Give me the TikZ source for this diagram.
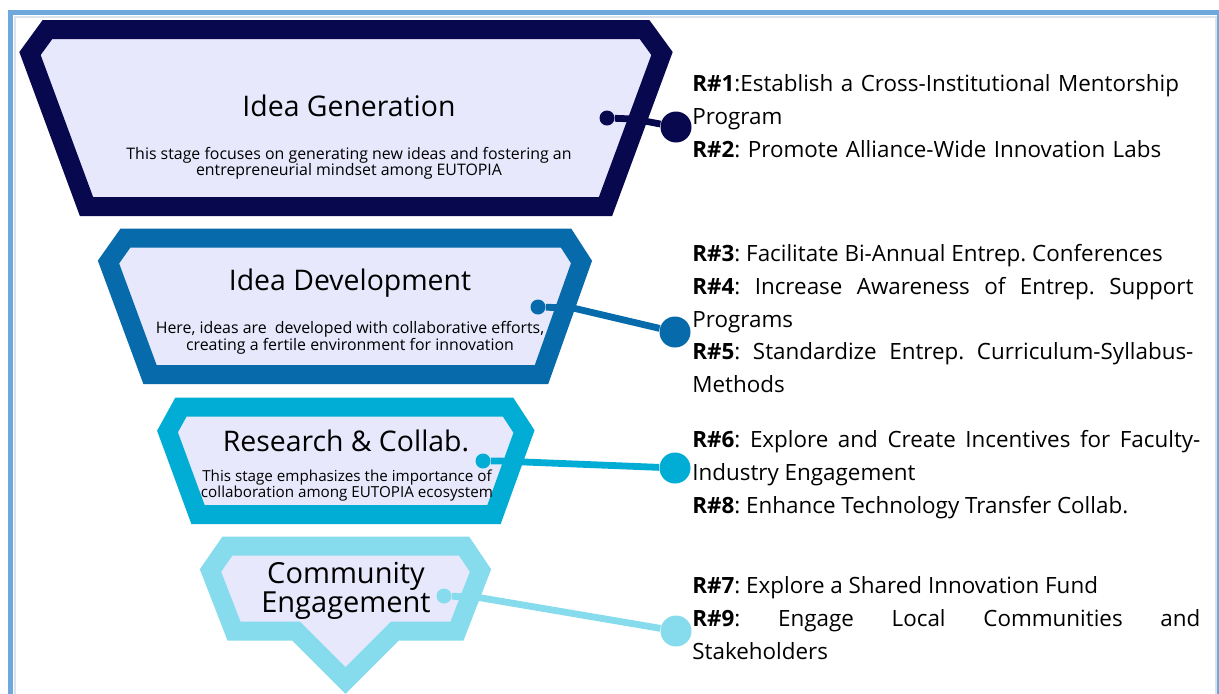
\documentclass[tikz,border=0pt]{standalone}
\usepackage{fontspec}
\setmainfont{Open Sans}
\frenchspacing
\usetikzlibrary{positioning, calc}
\definecolor{navy}{HTML}{08084F}
\definecolor{ocean}{HTML}{066AAB}
\definecolor{cyan}{HTML}{02ADD5}
\definecolor{sky}{HTML}{86DCEC}
\definecolor{lavender}{HTML}{E8E8FD}
\definecolor{frameblue}{HTML}{6FA8DC}
\definecolor{framegrey}{HTML}{DDE3EA}

\begin{document}
\begin{tikzpicture}[x=0.5pt, y=-0.5pt,
      stage/.style={fill=lavender, line width=9.5pt, line join=miter},
      title/.style={font=\fontsize{14.2}{16}\selectfont, align=center, inner sep=0},
      blurb/.style={font=\fontsize{7.95}{8}\selectfont, align=center, inner sep=0},
      recs/.style={font=\fontsize{11.2}{16.4}\selectfont, anchor=north west, inner sep=0, text width=254pt, align=justify},
      dot/.style={circle, fill, inner sep=0, minimum size=7.5pt},
      hub/.style={circle, fill, inner sep=0, minimum size=15.5pt},
      link/.style={line width=3.4pt}]
    \clip (0,0) rectangle (1219,693);
    \fill[white] (0,0) rectangle (1219,693);
    % page frame
    \draw[framegrey, line width=1pt] (15,17) rectangle (1216,720);
    \draw[frameblue, line width=2.5pt] (10.5,12.5) rectangle (1219.5,720);

    % funnel stages, drawn along the middle of each band
    \draw[stage, draw=navy] (47.5,29.5) -- (644.5,29.5) -- (662,53.5) -- (605.5,206.5)
      -- (86.5,206.5) -- (30,53.5) -- cycle;
    \draw[stage, draw=ocean] (125.5,238) -- (566,238) -- (581.5,262) -- (541.5,374.5)
      -- (150,374.5) -- (108.5,262) -- cycle;
    \draw[stage, draw=cyan] (181,407) -- (508,407) -- (524,431.5) -- (494,514.5)
      -- (198,514.5) -- (167.5,431.5) -- cycle;
    \draw[stage, draw=sky] (227.5,546) -- (464,546) -- (480.5,570.5) -- (457,631)
      -- (395,631) -- (345.5,680.5) -- (296,631) -- (234,631) -- (210.5,570.5) -- cycle;

    % stage texts
    \node[title] (t1) at (349,106) {Idea Generation};
    \node[blurb] (b1) at (349,163) {This stage focuses on generating new ideas and fostering an\\entrepreneurial mindset among EUTOPIA};
    \node[title] (t2) at (350,283) {Idea Development};
    \node[blurb, font=\fontsize{7.95}{8.5}\selectfont] (b2) at (350,338) {Here, ideas are\ \ developed with collaborative efforts,\\creating a fertile environment for innovation};
    \node[title] (t3) at (346,441) {Research \& Collab.};
    \node[blurb, font=\fontsize{7.6}{8}\selectfont] (b3) at (347,485) {This stage emphasizes the importance of\\collaboration among EUTOPIA ecosystem};
    \node[title, font=\fontsize{14.5}{14.5}\selectfont] (t4) at (346,591) {Community\\Engagement};

    % connectors to the recommendations
    \coordinate (e1) at (634,119);
    \coordinate (e2) at (573,308);
    \coordinate (e3) at (500,461);
    \coordinate (e4) at (476,597);
    \node[dot, navy] (d1) at (607,118) {};
    \node[hub, navy] (h1) at (676,127) {};
    \node[dot, ocean] (d2) at (538,307) {};
    \node[hub, ocean] (h2) at (675,332) {};
    \node[dot, cyan] (d3) at (483,461) {};
    \node[hub, cyan] (h3) at (675,468) {};
    \node[dot, sky] (d4) at (444,596) {};
    \node[hub, sky] (h4) at (676,631) {};
    \draw[link, navy] (d1) -- (e1) -- (h1);
    \draw[link, ocean] (d2) -- (e2) -- (h2);
    \draw[link, cyan] (d3) -- (e3) -- (h3);
    \draw[link, sky] (d4) -- (e4) -- (h4);

    % recommendations
    \node[recs, align=left] (r1) at (692,74) {\textbf{R\#1}:Establish a Cross-Institutional Mentorship\\Program\\\textbf{R\#2}: Promote Alliance-Wide Innovation Labs};
    \node[recs, text width=250.5pt] (r2) at (692,244) {\textbf{R\#3}: Facilitate Bi-Annual Entrep. Conferences\\\textbf{R\#4}: Increase Awareness of Entrep. Support\linebreak Programs\\\textbf{R\#5}: Standardize Entrep. Curriculum-Syllabus-\linebreak Methods};
    \node[recs] (r3) at (692,430) {\textbf{R\#6}: Explore and Create Incentives for Faculty-\linebreak Industry Engagement\\\textbf{R\#8}: Enhance Technology Transfer Collab.};
    \node[recs] (r4) at (692,576) {\textbf{R\#7}: Explore a Shared Innovation Fund\\\textbf{R\#9}: Engage Local Communities and\linebreak Stakeholders};
  \end{tikzpicture}
\end{document}
